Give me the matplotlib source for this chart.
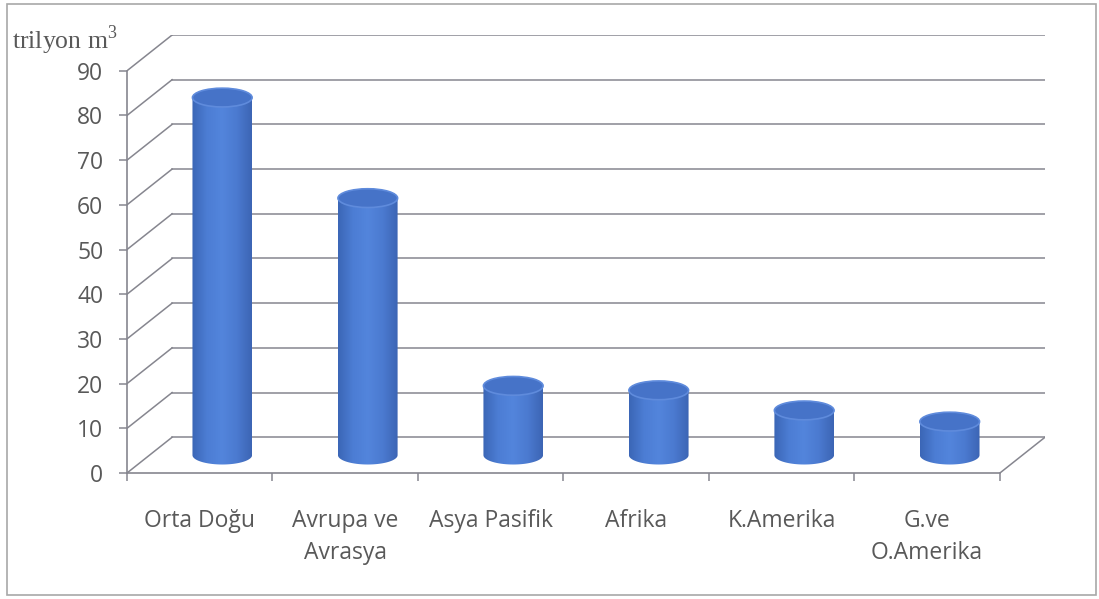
import matplotlib.pyplot as plt
import numpy as np
from matplotlib.patches import Ellipse, PathPatch, Rectangle
from matplotlib.path import Path
from matplotlib.colors import LinearSegmentedColormap

# proven natural gas reserves by region
categories = ['Orta Doğu', 'Avrupa ve\nAvrasya', 'Asya Pasifik', 'Afrika',
              'K.Amerika', 'G.ve\nO.Amerika']
reserves = [80, 57.5, 15.5, 14.5, 10, 7.5]
y_ticks = list(range(0, 100, 10))
unit_label = 'trilyon m$^{3}$'

# fake 3D box: depth offset of the back wall in data units
DEPTH_X = 0.31
DEPTH_Y = 8.0
CYL_W = 0.41      # cylinder diameter (category units)
CYL_E = 4.2       # ellipse height (value units)

GRID = '#86868f'
TEXT = '#595959'

body_cmap = LinearSegmentedColormap.from_list(
    'body', ['#3b66b6', '#4c7dd4', '#5385dc', '#4b7ad0', '#3c65b4'])


def cylinder(ax, cx, base, top):
    """Draws one shaded cylinder from base to top at x position cx."""
    rx = CYL_W / 2
    ry = CYL_E / 2
    t = np.linspace(0, np.pi, 60)
    # body outline: left side, lower half ellipse, right side, upper half ellipse
    xs = np.concatenate([[cx - rx], cx - rx * np.cos(t), [cx + rx],
                         cx + rx * np.cos(t)])
    ys = np.concatenate([[top], base - ry * np.sin(t), [top],
                         top + ry * np.sin(t)])
    path = Path(np.column_stack([xs, ys]), closed=False)
    body = PathPatch(path, facecolor='none', edgecolor='none', zorder=3)
    ax.add_patch(body)
    grad = np.linspace(0, 1, 256).reshape(1, -1)
    im = ax.imshow(grad, cmap=body_cmap, aspect='auto', zorder=3,
                   extent=(cx - rx, cx + rx, base - ry, top + ry),
                   interpolation='bicubic')
    im.set_clip_path(body)
    ax.add_patch(Ellipse((cx, top), CYL_W, CYL_E, facecolor='#4673c8',
                         edgecolor='#5f8bdc', lw=1.2, zorder=4))


fig = plt.figure(figsize=(10.99, 5.99), dpi=100)
fig.patches.append(Rectangle((7 / 1099, 4 / 599), 1089 / 1099, 591 / 599,
                             transform=fig.transFigure, fill=False,
                             edgecolor='#a8a8a8', lw=1.2))

ax = fig.add_axes([127 / 1099, (599 - 473) / 599,
                   (1045 - 127) / 1099, (473 - 35) / 599])
n = len(categories)
ax.set_xlim(0, n + DEPTH_X)
ax.set_ylim(0, 90 + DEPTH_Y)
ax.patch.set_alpha(0)

# side wall diagonals and back wall gridlines
for v in y_ticks:
    ax.plot([0, DEPTH_X], [v, v + DEPTH_Y], color=GRID, lw=1.1, zorder=1)
    ax.plot([DEPTH_X, n + DEPTH_X], [v + DEPTH_Y] * 2, color=GRID, lw=1.1,
            zorder=1)
# right edge of the floor
ax.plot([n, n + DEPTH_X], [0, DEPTH_Y], color=GRID, lw=1.1, zorder=1)

for i, val in enumerate(reserves):
    cx = i + 0.5 + DEPTH_X / 2
    base = DEPTH_Y / 2
    cylinder(ax, cx, base, base + val)

for side in ('top', 'right'):
    ax.spines[side].set_visible(False)
for side in ('left', 'bottom'):
    ax.spines[side].set_color(GRID)
    ax.spines[side].set_linewidth(1.2)
ax.spines['left'].set_bounds(0, 90)
ax.spines['bottom'].set_bounds(0, n)

ax.set_yticks(y_ticks)
ax.tick_params(axis='y', length=6, width=1.1, color=GRID, pad=11,
               labelsize=16.5, labelcolor=TEXT)
ax.set_xticks(range(n + 1))
ax.set_xticklabels([])
ax.tick_params(axis='x', which='major', length=6, width=1.1, color=GRID)
ax.set_xticks(np.arange(n) + 0.5, minor=True)
ax.set_xticklabels(categories, minor=True, linespacing=1.45)
ax.tick_params(axis='x', which='minor', length=0, pad=26, labelsize=16.5,
               labelcolor=TEXT)
for lbl in ax.get_xticklabels(minor=True) + ax.get_yticklabels():
    lbl.set_fontfamily('Open Sans')

plt.rcParams['mathtext.fontset'] = 'custom'
plt.rcParams['mathtext.rm'] = 'Liberation Serif'
fig.text(12 / 1099, 1 - 40 / 599, unit_label, family='Liberation Serif',
         fontsize=18.5, color=TEXT, va='center', ha='left')

fig.savefig('out.png', dpi=100)
